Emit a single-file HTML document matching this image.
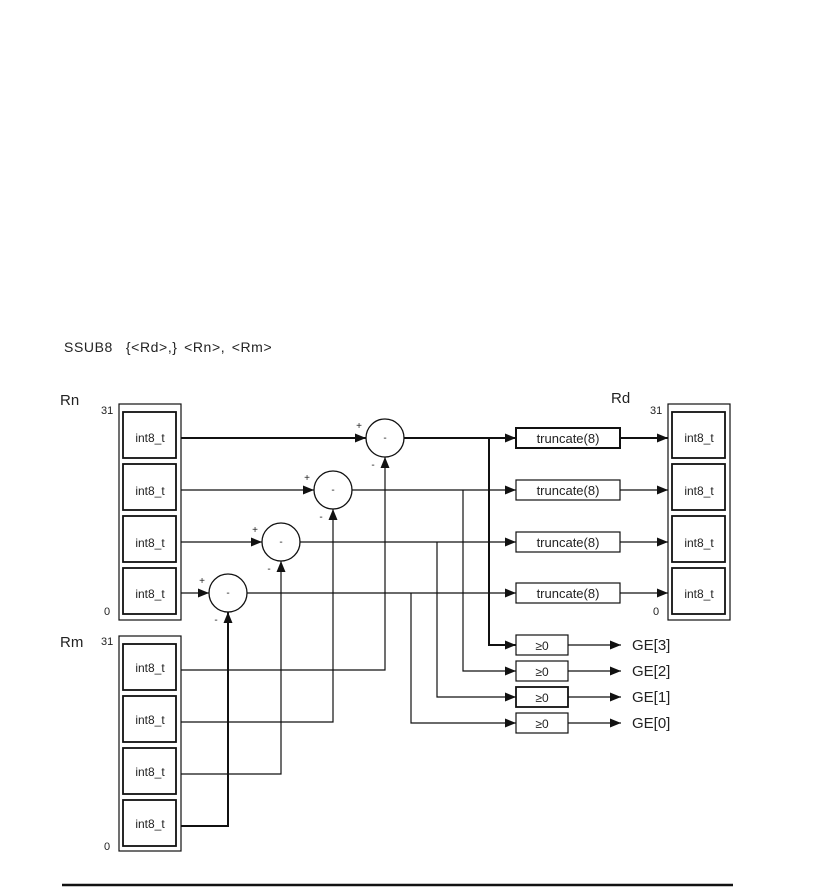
<!DOCTYPE html>
<html><head><meta charset="utf-8"><style>
html,body{margin:0;padding:0;background:#fff;}
svg{display:block;}
text{font-family:"Liberation Sans",sans-serif;fill:#222;}
</style></head><body>
<svg width="834" height="895" viewBox="0 0 834 895" xmlns="http://www.w3.org/2000/svg">
<defs>
<marker id="a" viewBox="0 0 11 10" refX="11" refY="5" markerWidth="11" markerHeight="9" markerUnits="userSpaceOnUse" orient="auto" preserveAspectRatio="none"><path d="M0,0 L11,5 L0,10 z" fill="#111"/></marker>
</defs>
<text x="64" y="352" font-size="14" letter-spacing="0.6" word-spacing="2" xml:space="preserve">SSUB8  {&lt;Rd&gt;,} &lt;Rn&gt;, &lt;Rm&gt;</text>
<text x="60" y="405" font-size="15">Rn</text>
<text x="60" y="647" font-size="15">Rm</text>
<text x="611" y="403" font-size="15">Rd</text>
<g font-size="11">
<text x="101" y="414">31</text><text x="104" y="615">0</text>
<text x="101" y="645">31</text><text x="104" y="850">0</text>
<text x="650" y="414">31</text><text x="653" y="615">0</text>
</g>
<g fill="none" stroke="#111">
<rect x="119" y="404" width="62" height="216" stroke-width="1.2"/>
<rect x="119" y="636" width="62" height="215" stroke-width="1.2"/>
<rect x="668" y="404" width="62" height="216" stroke-width="1.2"/>
</g>
<g fill="none" stroke="#111" stroke-width="1.8">
<rect x="123" y="412" width="53" height="46"/><rect x="123" y="464" width="53" height="46"/>
<rect x="123" y="516" width="53" height="46"/><rect x="123" y="568" width="53" height="46"/>
<rect x="123" y="644" width="53" height="46"/><rect x="123" y="696" width="53" height="46"/>
<rect x="123" y="748" width="53" height="46"/><rect x="123" y="800" width="53" height="46"/>
<rect x="672" y="412" width="53" height="46"/><rect x="672" y="464" width="53" height="46"/>
<rect x="672" y="516" width="53" height="46"/><rect x="672" y="568" width="53" height="46"/>
</g>
<g font-size="12" text-anchor="middle">
<text x="150" y="442">int8_t</text><text x="150" y="495">int8_t</text><text x="150" y="547">int8_t</text><text x="150" y="598">int8_t</text>
<text x="150" y="672">int8_t</text><text x="150" y="724">int8_t</text><text x="150" y="776">int8_t</text><text x="150" y="828">int8_t</text>
<text x="699" y="442">int8_t</text><text x="699" y="495">int8_t</text><text x="699" y="547">int8_t</text><text x="699" y="598">int8_t</text>
</g>
<g fill="#fff" stroke="#111" stroke-width="1.3">
<circle cx="385" cy="438" r="19"/><circle cx="333" cy="490" r="19"/>
<circle cx="281" cy="542" r="19"/><circle cx="228" cy="593" r="19"/>
</g>
<g font-size="10" text-anchor="middle">
<text x="385" y="441">-</text><text x="333" y="493">-</text><text x="281" y="545">-</text><text x="228" y="596">-</text>
<text x="359" y="429">+</text><text x="307" y="481">+</text><text x="255" y="533">+</text><text x="202" y="584">+</text>
<text x="373" y="468">-</text><text x="321" y="520">-</text><text x="269" y="572">-</text><text x="216" y="623">-</text>
</g>
<g stroke="#111" fill="none">
<line x1="181" y1="438" x2="366" y2="438" stroke-width="2" marker-end="url(#a)"/>
<line x1="181" y1="490" x2="314" y2="490" stroke-width="1.2" marker-end="url(#a)"/>
<line x1="181" y1="542" x2="262" y2="542" stroke-width="1.2" marker-end="url(#a)"/>
<line x1="181" y1="593" x2="209" y2="593" stroke-width="1.2" marker-end="url(#a)"/>
<polyline points="181,670 385,670 385,457" stroke-width="1.2" marker-end="url(#a)"/>
<polyline points="181,722 333,722 333,509" stroke-width="1.2" marker-end="url(#a)"/>
<polyline points="181,774 281,774 281,561" stroke-width="1.2" marker-end="url(#a)"/>
<polyline points="181,826 228,826 228,612" stroke-width="2" marker-end="url(#a)"/>
<line x1="404" y1="438" x2="516" y2="438" stroke-width="2" marker-end="url(#a)"/>
<line x1="352" y1="490" x2="516" y2="490" stroke-width="1.2" marker-end="url(#a)"/>
<line x1="300" y1="542" x2="516" y2="542" stroke-width="1.2" marker-end="url(#a)"/>
<line x1="247" y1="593" x2="516" y2="593" stroke-width="1.2" marker-end="url(#a)"/>
<polyline points="489,438 489,645 516,645" stroke-width="2" marker-end="url(#a)"/>
<polyline points="463,490 463,671 516,671" stroke-width="1.2" marker-end="url(#a)"/>
<polyline points="437,542 437,697 516,697" stroke-width="1.2" marker-end="url(#a)"/>
<polyline points="411,593 411,723 516,723" stroke-width="1.2" marker-end="url(#a)"/>
<line x1="620" y1="438" x2="668" y2="438" stroke-width="2" marker-end="url(#a)"/>
<line x1="620" y1="490" x2="668" y2="490" stroke-width="1.2" marker-end="url(#a)"/>
<line x1="620" y1="542" x2="668" y2="542" stroke-width="1.2" marker-end="url(#a)"/>
<line x1="620" y1="593" x2="668" y2="593" stroke-width="1.2" marker-end="url(#a)"/>
<line x1="568" y1="645" x2="621" y2="645" stroke-width="1.2" marker-end="url(#a)"/>
<line x1="568" y1="671" x2="621" y2="671" stroke-width="1.2" marker-end="url(#a)"/>
<line x1="568" y1="697" x2="621" y2="697" stroke-width="1.2" marker-end="url(#a)"/>
<line x1="568" y1="723" x2="621" y2="723" stroke-width="1.2" marker-end="url(#a)"/>
</g>
<g fill="#fff" stroke="#111">
<rect x="516" y="428" width="104" height="20" stroke-width="2"/>
<rect x="516" y="480" width="104" height="20" stroke-width="1.2"/>
<rect x="516" y="532" width="104" height="20" stroke-width="1.2"/>
<rect x="516" y="583" width="104" height="20" stroke-width="1.2"/>
<rect x="516" y="635" width="52" height="20" stroke-width="1.2"/>
<rect x="516" y="661" width="52" height="20" stroke-width="1.2"/>
<rect x="516" y="687" width="52" height="20" stroke-width="1.8"/>
<rect x="516" y="713" width="52" height="20" stroke-width="1.2"/>
</g>
<g font-size="13" text-anchor="middle">
<text x="568" y="443">truncate(8)</text><text x="568" y="495">truncate(8)</text>
<text x="568" y="547">truncate(8)</text><text x="568" y="598">truncate(8)</text>
</g>
<g font-size="12" text-anchor="middle">
<text x="542" y="650">≥0</text><text x="542" y="676">≥0</text><text x="542" y="702">≥0</text><text x="542" y="728">≥0</text>
</g>
<g font-size="15">
<text x="632" y="650">GE[3]</text><text x="632" y="676">GE[2]</text>
<text x="632" y="702">GE[1]</text><text x="632" y="728">GE[0]</text>
</g>
<line x1="62" y1="885" x2="733" y2="885" stroke="#111" stroke-width="2.5"/>
</svg>
</body></html>
